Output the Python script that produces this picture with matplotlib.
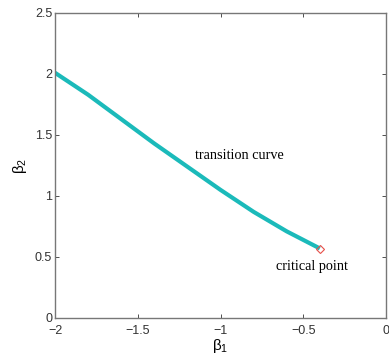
import matplotlib
matplotlib.use('Agg')
import matplotlib.pyplot as plt

# 过渡曲线数据
beta1 = [-2.0, -1.8, -1.6, -1.4, -1.2, -1.0, -0.8, -0.6, -0.4]
beta2 = [2.01, 1.83, 1.63, 1.43, 1.24, 1.05, 0.87, 0.71, 0.57]
crit_x = -0.4
crit_y = 0.565

xticks = [-2, -1.5, -1, -0.5, 0]
xticklabels = ['\u22122', '\u22121.5', '\u22121', '\u22120.5', '0']
yticks = [0, 0.5, 1, 1.5, 2, 2.5]
yticklabels = ['0', '0.5', '1', '1.5', '2', '2.5']

plt.rcParams['font.family'] = ['Liberation Sans', 'DejaVu Sans']
plt.rcParams['mathtext.fontset'] = 'custom'
plt.rcParams['mathtext.rm'] = 'Liberation Sans'
plt.rcParams['mathtext.it'] = 'Liberation Sans'

fig = plt.figure(figsize=(3.89, 3.54), dpi=100)
ax = fig.add_axes([0.1414, 0.1017, 0.851, 0.8616])

ax.plot(beta1, beta2, color='#1bbaba', lw=3.0, solid_capstyle='butt')
ax.plot([crit_x], [crit_y], marker='D', ms=4, mfc='none', mec='#e8504a', mew=0.8)

ax.text(-1.155, 1.33, 'transition curve', family='Liberation Serif', fontsize=10.3, va='center', ha='left')
ax.text(-0.665, 0.42, 'critical point', family='Liberation Serif', fontsize=10.3, va='center', ha='left')

ax.set_xlim(-2, 0)
ax.set_ylim(0, 2.5)
ax.set_xticks(xticks)
ax.set_xticklabels(xticklabels)
ax.set_yticks(yticks)
ax.set_yticklabels(yticklabels)
ax.tick_params(direction='in', top=True, right=True, length=3, width=0.6,
               labelsize=9, colors='#333333', pad=2)
ax.tick_params(axis='x', pad=5)
for s in ax.spines.values():
    s.set_color('#777777')
    s.set_linewidth(1.0)

ax.set_xlabel(r'$\beta_1$', fontsize=11, labelpad=0)
ax.set_ylabel(r'$\beta_2$', fontsize=11, labelpad=4)

fig.savefig('out.png', dpi=100)
